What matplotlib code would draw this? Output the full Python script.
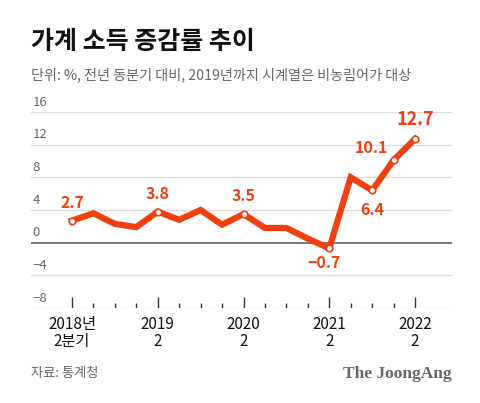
import matplotlib
matplotlib.use("Agg")
import matplotlib.pyplot as plt
import numpy as np

plt.rcParams['font.family'] = ['Noto Sans CJK KR', 'DejaVu Sans']

values = [2.7, 3.6, 2.3, 1.9, 3.8, 2.8, 4.0, 2.2, 3.5, 1.8, 1.8, 0.5, -0.7, 8.0, 6.4, 10.1, 12.7]
yticks = [-8, -4, 0, 4, 8, 12, 16]
ytick_labels = ['\u22128', '\u22124', '0', '4', '8', '12', '16']
major_idx = [0, 4, 8, 12, 16]
xtick_labels = ['2018년\n2분기', '2019\n2', '2020\n2', '2021\n2', '2022\n2']
marker_idx = [0, 4, 8, 12, 14, 15, 16]
label_idx = [0, 4, 8, 12, 14, 15, 16]
label_text = ['2.7', '3.8', '3.5', '\u22120.7', '6.4', '10.1', '12.7']

RED = '#f0400f'
fig = plt.figure(figsize=(4.8, 4.03), dpi=100)
ax = fig.add_axes([31/480, (403-308)/403, (452-31)/480, (308-112)/403])
x = np.arange(len(values))
ax.set_xlim(-41/21.44, (452-72)/21.44)
ax.set_ylim(-8, 16)
for s in ax.spines.values():
    s.set_visible(False)
ax.set_xticks([]); ax.set_yticks([])

for yv, lab in zip(yticks, ytick_labels):
    ax.axhline(yv, color='#555555' if yv == 0 else '#dcdcdc', lw=1.1 if yv == 0 else 1.0, zorder=1)
    ax.annotate(lab, (0, yv), xycoords=('axes fraction', 'data'), xytext=(1, 2.5),
                textcoords='offset points', fontsize=9.5, color='#666666', ha='left', va='bottom')

# ticks on bottom line
for i in x:
    h = 1.35 if i in major_idx else 0.6
    ax.plot([i, i], [-8, -8 + h], color='#333333', lw=1.0, zorder=2, solid_capstyle='butt')

for i, lab in zip(major_idx, xtick_labels):
    ax.annotate(lab, (i, -8), xycoords='data', xytext=(0, -6), textcoords='offset points',
                ha='center', va='top', fontsize=11, color='#111111', linespacing=1.0)

ax.plot(x, values, color=RED, lw=4.5, zorder=3, solid_joinstyle='miter')
ax.scatter([x[i] for i in marker_idx], [values[i] for i in marker_idx], s=22,
           facecolor='white', edgecolor=RED, lw=1.2, zorder=4)

offsets = {0: (0, 7), 4: (0, 7), 8: (0, 7), 12: (-4, -5), 14: (0, -8), 15: (-16, 3), 16: (0, 7)}
for i, t in zip(label_idx, label_text):
    dx, dy = offsets[i]
    ax.annotate(t, (x[i], values[i]), xytext=(dx, dy), textcoords='offset points',
                ha='center', va='bottom' if dy > 0 else 'top', fontsize=11.5 if i != 16 else 13,
                fontweight='bold', color=RED, zorder=5)

fig.text(31/480, 1 - 42/403, '가계 소득 증감률 추이', fontsize=18, fontweight='heavy',
         color='#111111', ha='left', va='center')
fig.text(31/480, 1 - 75/403, '단위: %, 전년 동분기 대비, 2019년까지 시계열은 비농림어가 대상',
         fontsize=10.2, color='#666666', ha='left', va='center')
fig.text(31/480, 1 - 374/403, '자료: 통계청', fontsize=9.5, color='#666666', ha='left', va='center')
fig.text(452/480, 1 - 374/403, 'The JoongAng', fontsize=12.5, fontweight='bold', family='Liberation Serif',
         color='#666666', ha='right', va='center')

fig.savefig('out.png', dpi=100, facecolor='white')
